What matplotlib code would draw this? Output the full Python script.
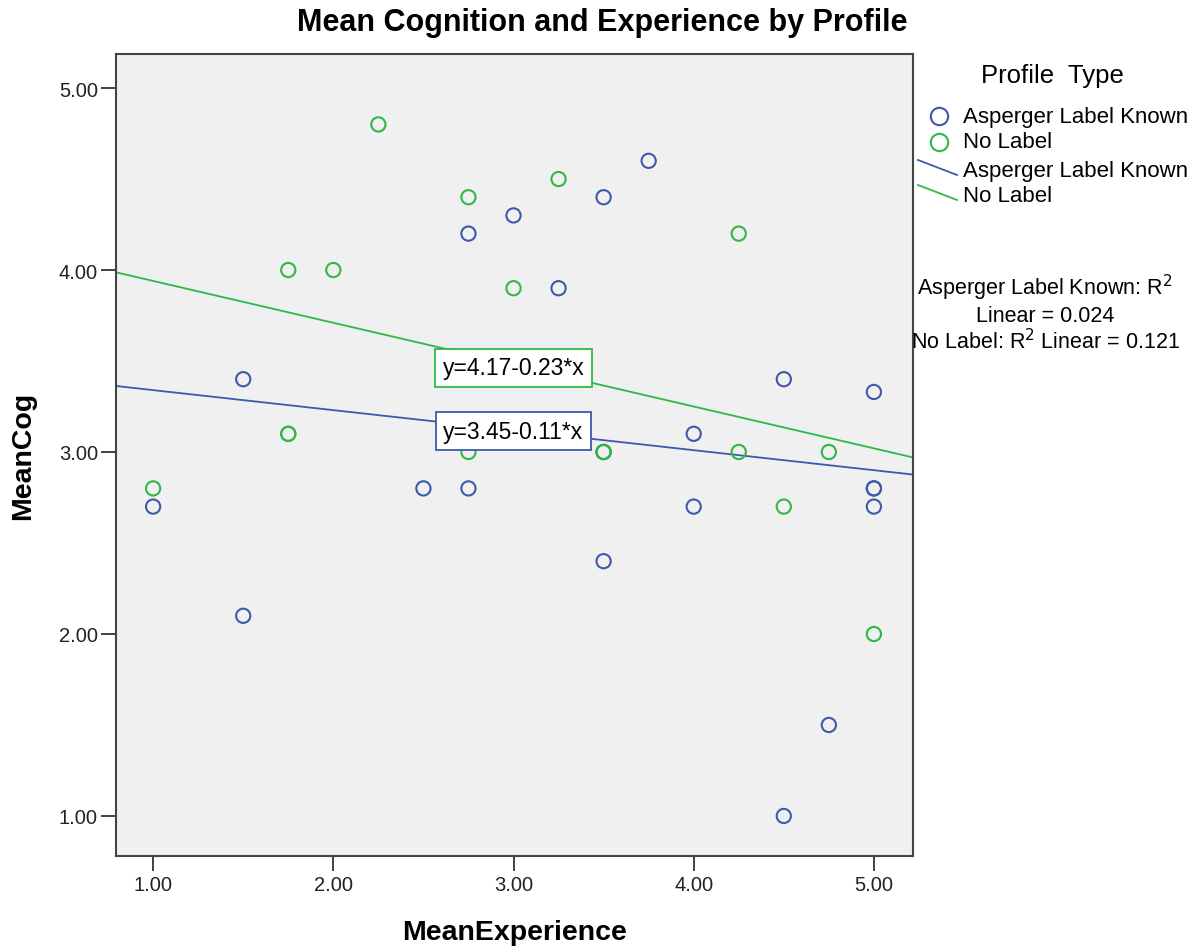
import matplotlib
matplotlib.use("Agg")
import matplotlib.pyplot as plt
from matplotlib.lines import Line2D
import numpy as np

plt.rcParams['font.family'] = ['Liberation Sans', 'DejaVu Sans']

title = "Mean Cognition and Experience by Profile"
xlabel = "MeanExperience"
ylabel = "MeanCog"
groups = ["Asperger Label Known", "No Label"]

asp_x = [1.0, 1.5, 1.5, 2.5, 2.75, 2.75, 3.0, 3.25, 3.5, 3.5, 3.5, 3.75, 4.0, 4.0, 4.5, 4.5, 4.75, 5.0, 5.0, 5.0, 5.0]
asp_y = [2.7, 3.4, 2.1, 2.8, 4.2, 2.8, 4.3, 3.9, 4.4, 3.0, 2.4, 4.6, 3.1, 2.7, 3.4, 1.0, 1.5, 3.33, 2.8, 2.8, 2.7]
nol_x = [1.0, 1.75, 1.75, 1.75, 2.0, 2.25, 2.75, 2.75, 3.0, 3.25, 3.5, 3.5, 4.25, 4.25, 4.5, 4.75, 5.0]
nol_y = [2.8, 4.0, 3.1, 3.1, 4.0, 4.8, 4.4, 3.0, 3.9, 4.5, 3.0, 3.0, 4.2, 3.0, 2.7, 3.0, 2.0]

asp_fit = (3.45, -0.11)
nol_fit = (4.17, -0.23)
r2 = {"Asperger Label Known": 0.024, "No Label": 0.121}

xticks = [1.0, 2.0, 3.0, 4.0, 5.0]
yticks = [1.0, 2.0, 3.0, 4.0, 5.0]

blue = "#3E58AC"
green = "#2EB848"

fig = plt.figure(figsize=(11.99, 9.53), dpi=100)
ax = fig.add_axes([116/1199, 1-857/953, (913-116)/1199, (857-55)/953])
ax.set_facecolor("#F0F0F0")
xlim = (0.794, 5.217)
ylim = (0.78, 5.187)
ax.set_xlim(*xlim)
ax.set_ylim(*ylim)

ax.scatter(asp_x, asp_y, s=105, facecolors='none', edgecolors=blue, linewidths=1.5, zorder=3)
ax.scatter(nol_x, nol_y, s=105, facecolors='none', edgecolors=green, linewidths=1.5, zorder=3)

xx = np.array(xlim)
ax.plot(xx, asp_fit[0] + asp_fit[1]*xx, color=blue, lw=1.3, zorder=2)
ax.plot(xx, nol_fit[0] + nol_fit[1]*xx, color=green, lw=1.3, zorder=2)

ax.text(3.0, 3.462, "y=%.2f%.2f*x" % nol_fit, ha='center', va='center', fontsize=16.5,
        bbox=dict(boxstyle='square,pad=0.32', fc='white', ec=green, lw=1.3), zorder=4)
ax.text(3.0, 3.115, "y=%.2f%.2f*x" % asp_fit, ha='center', va='center', fontsize=16.5,
        bbox=dict(boxstyle='square,pad=0.32', fc='white', ec=blue, lw=1.3), zorder=4)

ax.set_xticks(xticks)
ax.set_yticks(yticks)
ax.set_xticklabels(["%.2f" % v for v in xticks])
ax.set_yticklabels(["%.2f" % v for v in yticks])
ax.tick_params(axis='both', direction='out', length=11, width=1.3, color='#333333',
               labelsize=14.5, labelcolor='#222222')
ax.tick_params(axis='x', pad=3)
ax.tick_params(axis='y', pad=2)
for sp in ax.spines.values():
    sp.set_color('#444444')
    sp.set_linewidth(1.5)

ax.set_xlabel(xlabel, fontsize=20.5, fontweight='bold', labelpad=18)
ax.set_ylabel(ylabel, fontsize=20.5, fontweight='bold', labelpad=16)
fig.text(602/1199, 1-23/953, title, ha='center', va='center', fontsize=22, fontweight='bold')

# legend
fig.text(1052/1199, 1-76/953, "Profile  Type", ha='center', va='center', fontsize=18.5)
legend_y = [117, 143, 172, 197]
cols = [blue, green, blue, green]
for i, (yy, c) in enumerate(zip(legend_y, cols)):
    fy = 1 - yy/953
    if i < 2:
        fig.add_artist(Line2D([939/1199], [fy], marker='o', markersize=12.5, mfc='none', mec=c, mew=1.5, ls='none'))
    else:
        fig.add_artist(Line2D([918/1199, 957/1199], [1-(yy-11)/953, 1-(yy+4)/953], color=c, lw=1.3))
    fig.text(963/1199, fy, groups[i % 2], ha='left', va='center', fontsize=16)

fig.text(1045/1199, 1-288/953, "Asperger Label Known: R$^2$", ha='center', va='center', fontsize=15.5)
fig.text(1045/1199, 1-317/953, "Linear = %.3f" % r2["Asperger Label Known"], ha='center', va='center', fontsize=15.5)
fig.text(1045/1199, 1-342/953, "No Label: R$^2$ Linear = %.3f" % r2["No Label"],
         ha='center', va='center', fontsize=15.5)

fig.savefig("out.png", dpi=100)
